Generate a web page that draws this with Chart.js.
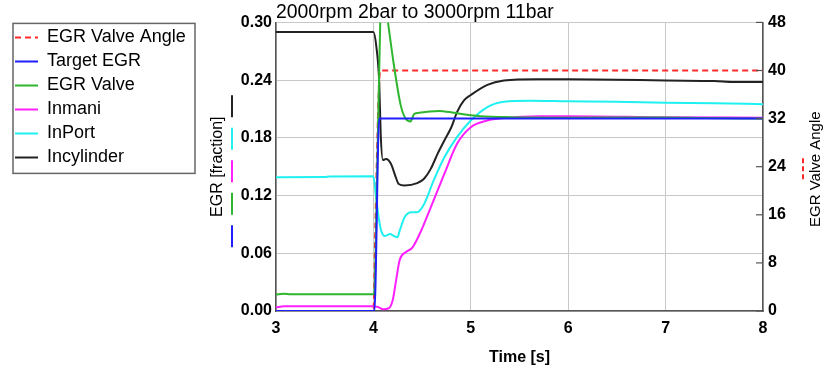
<!DOCTYPE html>
<html>
<head>
<meta charset="utf-8">
<script src="https://cdn.jsdelivr.net/npm/chart.js@4.4.1/dist/chart.umd.min.js"></script>
<style>
  html, body { margin: 0; padding: 0; background: #fff; }
  #wrap { width: 834px; height: 375px; }
</style>
</head>
<body>
<div id="wrap"><canvas id="egrChart"></canvas></div>
<script>
// tick labels
const timeTicks = [3, 4, 5, 6, 7, 8];
const egrTicks = [0, 0.06, 0.12, 0.18, 0.24, 0.30];
const angleTicks = [0, 8, 16, 24, 32, 40, 48];

// EGR Valve Angle [deg] (right axis)
const valveAngleTime = [3, 4.0, 4.02, 4.05, 4.07, 8];
const valveAngle = [0, 0, 14, 34, 40, 40];

// Target EGR
const targetTime = [3, 4.01, 4.06, 8];
const targetEgr = [0, 0, 0.2, 0.2];

// EGR Valve
const valveTime = [3, 3.08, 3.15, 3.5, 4.0, 4.01, 4.04, 4.07, 4.10, 4.15, 4.21, 4.28, 4.33, 4.38, 4.42, 4.47, 4.55, 4.67, 4.83, 5.0, 5.1, 5.4, 6.0, 7.0, 7.4, 8];
const valveEgr = [0.0172, 0.018, 0.0175, 0.0175, 0.0175, 0.02, 0.15, 0.30, 0.34, 0.30, 0.256, 0.214, 0.200, 0.197, 0.205, 0.206, 0.207, 0.208, 0.206, 0.2035, 0.2025, 0.2015, 0.201, 0.2012, 0.2005, 0.2];

// Inmani
const inmaniTime = [3, 3.08, 4.0, 4.05, 4.10, 4.16, 4.20, 4.23, 4.27, 4.33, 4.40, 4.47, 4.59, 4.73, 4.86, 5.0, 5.17, 5.34, 5.7, 6.0, 7.0, 8];
const inmaniEgr = [0.0035, 0.005, 0.005, 0.004, 0.0017, 0.003, 0.012, 0.030, 0.053, 0.061, 0.066, 0.079, 0.108, 0.143, 0.174, 0.191, 0.198, 0.2005, 0.2025, 0.2025, 0.2015, 0.201];

// InPort
const inPortTime = [3, 3.5, 3.55, 4.0, 4.02, 4.05, 4.08, 4.12, 4.17, 4.21, 4.245, 4.27, 4.32, 4.39, 4.45, 4.52, 4.62, 4.73, 4.86, 5.0, 5.17, 5.34, 5.6, 6.0, 6.5, 7.0, 7.5, 8];
const inPortEgr = [0.139, 0.1392, 0.1398, 0.14, 0.125, 0.100, 0.0835, 0.078, 0.080, 0.078, 0.0766, 0.0835, 0.0975, 0.1027, 0.1027, 0.111, 0.136, 0.160, 0.181, 0.198, 0.212, 0.2175, 0.2185, 0.218, 0.2175, 0.2165, 0.216, 0.215];

// Incylinder
const incylTime = [3, 3.5, 4.0, 4.03, 4.06, 4.075, 4.097, 4.13, 4.18, 4.23, 4.26, 4.32, 4.45, 4.52, 4.59, 4.66, 4.73, 4.80, 4.86, 4.93, 5.0, 5.17, 5.34, 5.68, 6.0, 6.5, 7.0, 7.5, 7.7, 8];
const incylEgr = [0.290, 0.290, 0.290, 0.275, 0.237, 0.184, 0.157, 0.158, 0.153, 0.139, 0.132, 0.1305, 0.133, 0.1375, 0.148, 0.1636, 0.1775, 0.191, 0.207, 0.219, 0.2245, 0.235, 0.2395, 0.241, 0.241, 0.2405, 0.2395, 0.239, 0.238, 0.238];

function toPoints(times, values) {
    return times.map((t, i) => ({ x: t, y: values[i] }));
}

Chart.defaults.font.family = "'Liberation Sans', Arial, sans-serif";
Chart.defaults.color = "#000";

const colors = {
    angle: "#ff2a2a",
    target: "#1f1fff",
    valve: "#2fb52f",
    inmani: "#ff1fff",
    inport: "#1ff0f0",
    incyl: "#222222"
};

// frame round the legend, colour keys beside axis titles, right axis title
const decorPlugin = {
    id: "decor",
    afterDraw(chart) {
        const { ctx, chartArea, legend } = chart;
        const boxes = legend.legendHitBoxes;
        const first = boxes[0];
        const last = boxes[boxes.length - 1];
        ctx.save();

        // legend frame
        ctx.strokeStyle = "#666";
        ctx.lineWidth = 1.5;
        const fx = first.left - 2;
        const fy = chartArea.top + 1;
        ctx.strokeRect(fx, fy, legend.left + legend.width - fx, last.top + last.height + 7 - fy);

        // inner tick marks on the right axis
        const y2 = chart.scales.y2;
        ctx.strokeStyle = "#555";
        ctx.lineWidth = 1.2;
        angleTicks.forEach(v => {
            const py = y2.getPixelForValue(v);
            ctx.beginPath();
            ctx.moveTo(chartArea.right - 7, py);
            ctx.lineTo(chartArea.right, py);
            ctx.stroke();
        });

        // left axis keys
        const midY = (chartArea.top + chartArea.bottom) / 2 + 4.5;
        const keyX = chartArea.left - 44;
        const keys = [colors.incyl, colors.inport, colors.inmani, colors.valve, colors.target];
        ctx.lineWidth = 2;
        keys.forEach((c, i) => {
            const y0 = midY - 76 + i * 32.5;
            ctx.strokeStyle = c;
            ctx.beginPath();
            ctx.moveTo(keyX, y0);
            ctx.lineTo(keyX, y0 + 22);
            ctx.stroke();
        });

        // right axis key
        const rx = chartArea.right + 40;
        ctx.strokeStyle = colors.angle;
        ctx.setLineDash([5, 3]);
        ctx.beginPath();
        ctx.moveTo(rx, midY - 13);
        ctx.lineTo(rx, midY + 11);
        ctx.stroke();
        ctx.setLineDash([]);

        // right axis title
        ctx.fillStyle = "#000";
        ctx.font = "15px 'Liberation Sans', Arial, sans-serif";
        ctx.textAlign = "center";
        ctx.textBaseline = "middle";
        ctx.translate(chartArea.right + 53, midY - 2);
        ctx.rotate(-Math.PI / 2);
        ctx.fillText("EGR Valve Angle", 0, 0);
        ctx.restore();
    }
};

const tickFont = { size: 16, weight: "bold" };

new Chart(document.getElementById("egrChart"), {
    type: "line",
    data: {
        datasets: [
            {
                label: "EGR Valve Angle",
                data: toPoints(valveAngleTime, valveAngle),
                yAxisID: "y2",
                borderColor: colors.angle,
                borderDash: [6, 4],
                borderWidth: 2,
                order: 1 // drawn underneath the other lines
            },
            {
                label: "Target EGR",
                data: toPoints(targetTime, targetEgr),
                yAxisID: "y",
                borderColor: colors.target,
                borderWidth: 2
            },
            {
                label: "EGR Valve",
                data: toPoints(valveTime, valveEgr),
                yAxisID: "y",
                borderColor: colors.valve,
                borderWidth: 2
            },
            {
                label: "Inmani",
                data: toPoints(inmaniTime, inmaniEgr),
                yAxisID: "y",
                borderColor: colors.inmani,
                borderWidth: 2
            },
            {
                label: "InPort",
                data: toPoints(inPortTime, inPortEgr),
                yAxisID: "y",
                borderColor: colors.inport,
                borderWidth: 2
            },
            {
                label: "Incylinder",
                data: toPoints(incylTime, incylEgr),
                yAxisID: "y",
                borderColor: colors.incyl,
                borderWidth: 2
            }
        ]
    },
    options: {
        responsive: true,
        maintainAspectRatio: false,
        animation: false,
        layout: { padding: { top: 3, left: 9, right: 0, bottom: 0 } },
        elements: {
            point: { radius: 0 },
            line: { cubicInterpolationMode: "monotone", fill: false }
        },
        plugins: {
            tooltip: { enabled: false },
            title: {
                display: true,
                text: "2000rpm 2bar to 3000rpm 11bar",
                align: "start",
                fullSize: false,
                font: { size: 19.4, weight: "normal", lineHeight: 1 },
                padding: 0,
                color: "#000"
            },
            legend: {
                position: "left",
                align: "start",
                fullSize: false,
                maxWidth: 186,
                labels: {
                    usePointStyle: true,
                    pointStyle: "line",
                    pointStyleWidth: 23,
                    padding: 6,
                    font: { size: 18 },
                    color: "#000",
                    sort: (a, b) => a.datasetIndex - b.datasetIndex,
                    // keep the dash of each line in its legend sample
                    generateLabels: chart =>
                        Chart.defaults.plugins.legend.labels.generateLabels(chart).map(item => ({
                            ...item,
                            lineDash: chart.data.datasets[item.datasetIndex].borderDash || [],
                            lineWidth: 2
                        }))
                }
            }
        },
        scales: {
            x: {
                type: "linear",
                min: 3,
                max: 8,
                afterBuildTicks: s => { s.ticks = timeTicks.map(v => ({ value: v })); },
                afterFit: s => { s.height = 64; },
                ticks: { padding: 8, font: tickFont, color: "#000" },
                grid: { color: "#c8c8c8", drawTicks: false },
                border: { color: "#555", width: 1.5 },
                title: {
                    display: true,
                    text: "Time [s]",
                    font: { size: 16, weight: "bold" },
                    padding: { top: 0, bottom: 8 },
                    color: "#000"
                }
            },
            y: {
                position: "left",
                min: 0,
                max: 0.3,
                afterBuildTicks: s => { s.ticks = egrTicks.map(v => ({ value: v })); },
                afterFit: s => { s.width = 81; },
                ticks: { padding: 4, font: tickFont, color: "#000", callback: v => v.toFixed(2) },
                grid: { color: "#c8c8c8", drawTicks: false },
                border: { color: "#555", width: 1.5 },
                title: {
                    display: true,
                    text: "EGR [fraction]",
                    font: { size: 16 },
                    padding: { top: 13, bottom: 13 },
                    color: "#000"
                }
            },
            y2: {
                position: "right",
                min: 0,
                max: 48,
                afterBuildTicks: s => { s.ticks = angleTicks.map(v => ({ value: v })); },
                afterFit: s => { s.width = 71; },
                ticks: { padding: 5, font: tickFont, color: "#000" },
                grid: { drawOnChartArea: false, drawTicks: false },
                border: { color: "#555", width: 1.5 }
            }
        }
    },
    plugins: [decorPlugin]
});
</script>
</body>
</html>
